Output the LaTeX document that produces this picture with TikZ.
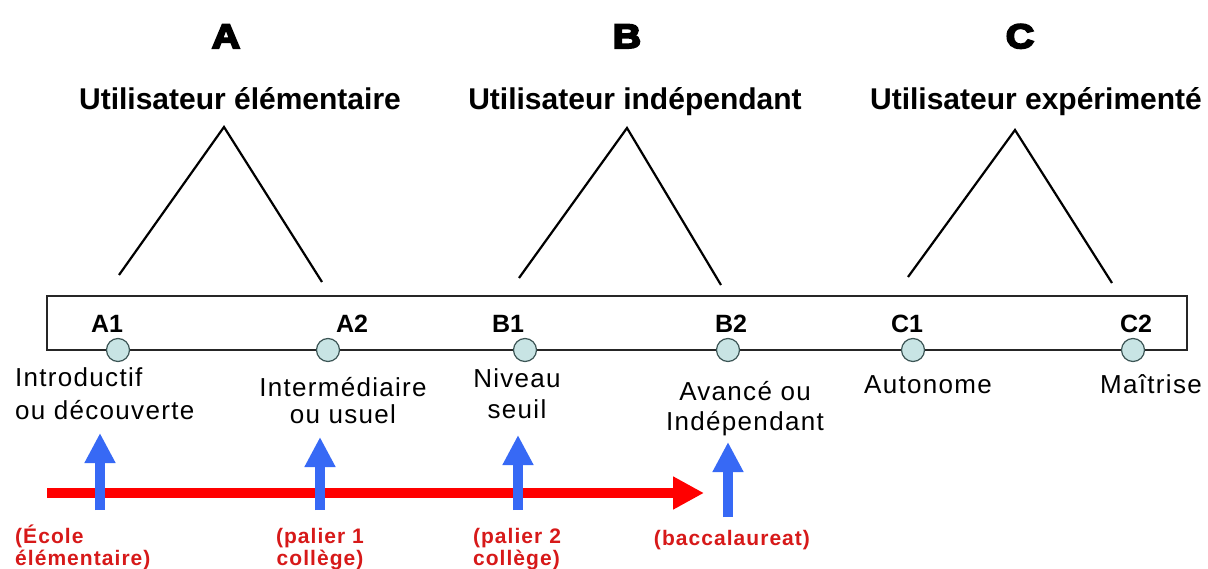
\documentclass[tikz,border=0pt]{standalone}
\usepackage{fontspec}
\setmainfont{Liberation Sans}
\newfontfamily\heavy{Liberation Sans}[UprightFont={* Bold}, FakeBold=6, FakeStretch=1.15]
\usetikzlibrary{arrows.meta}
\definecolor{redarrow}{RGB}{255,0,0}
\definecolor{redtext}{RGB}{215,25,25}
\definecolor{bluearrow}{RGB}{55,105,245}
\definecolor{dotfill}{RGB}{200,228,228}
\definecolor{dotdraw}{RGB}{60,85,85}
\tikzset{
  bigletter/.style={font=\fontsize{34}{34}\selectfont\heavy, anchor=base, inner sep=0pt},
  header/.style={font=\fontsize{30}{30}\selectfont\bfseries, anchor=base, inner sep=0pt},
  levelname/.style={font=\fontsize{25}{26}\selectfont\bfseries, anchor=base, inner sep=0pt},
  desc/.style={font=\fontsize{26}{30}\selectfont\addfontfeature{LetterSpace=5}, anchor=base, inner sep=0pt, align=center},
  redlabel/.style={font=\fontsize{21}{21.5}\selectfont\bfseries\addfontfeature{LetterSpace=5}, text=redtext, anchor=base, inner sep=0pt},
  dot/.style={circle, draw=dotdraw, fill=dotfill, line width=1.2pt, minimum size=23pt, inner sep=0pt},
  branch/.style={line width=2.2pt, black},
  scalebox/.style={draw=black!85, line width=1.5pt},
  progress/.style={draw=redarrow, line width=10pt, -{Triangle[length=31pt,width=31pt]}},
  stage/.style={draw=bluearrow, line width=9.5pt, -{Triangle[length=30pt,width=29pt]}},
}
\begin{document}
\begin{tikzpicture}[x=1pt,y=-1pt]
\useasboundingbox (0,0) rectangle (1208,569);
\fill[white] (0,0) rectangle (1208,569);

% big letters
\node[bigletter] (LA) at (226,48) {A};
\node[bigletter] (LB) at (627,48) {B};
\node[bigletter] (LC) at (1020,48) {C};

% headers
\node[header] (HA) at (240,110) {Utilisateur élémentaire};
\node[header] (HB) at (635,110) {Utilisateur indépendant};
\node[header] (HC) at (1036,110) {Utilisateur expérimenté};

% triangle coordinates
\coordinate (TA) at (224,127);
\coordinate (TAl) at (119,275);
\coordinate (TAr) at (322,282);
\coordinate (TB) at (627,128);
\coordinate (TBl) at (519,278);
\coordinate (TBr) at (721,285);
\coordinate (TC) at (1015,130);
\coordinate (TCl) at (908,277);
\coordinate (TCr) at (1112,283);
\draw[branch] (TAl) -- (TA) -- (TAr);
\draw[branch] (TBl) -- (TB) -- (TBr);
\draw[branch] (TCl) -- (TC) -- (TCr);

% scale box
\coordinate (R1) at (47,296);
\coordinate (R2) at (1187,350);
\draw[scalebox] (R1) rectangle (R2);

% level dots
\node[dot] (dA1) at (118,350) {};
\node[dot] (dA2) at (328,350) {};
\node[dot] (dB1) at (525,350) {};
\node[dot] (dB2) at (728,350) {};
\node[dot] (dC1) at (913,350) {};
\node[dot] (dC2) at (1133,350) {};

% level names
\node[levelname] (nA1) at (107,333) {A1};
\node[levelname] (nA2) at (352,333) {A2};
\node[levelname] (nB1) at (508,333) {B1};
\node[levelname] (nB2) at (731,333) {B2};
\node[levelname] (nC1) at (907,333) {C1};
\node[levelname] (nC2) at (1136,333) {C2};

% descriptions (anchor = baseline of last line)
\node[desc, anchor=base west, align=left, font=\fontsize{26}{33}\selectfont\addfontfeature{LetterSpace=5}] (xA1) at (15,419) {Introductif\\ou découverte};
\node[desc, font=\fontsize{26}{27}\selectfont\addfontfeature{LetterSpace=5}] (xA2) at (343,423) {Intermédiaire\\ou usuel};
\node[desc, font=\fontsize{26}{31}\selectfont\addfontfeature{LetterSpace=5}] (xB1) at (517,418) {Niveau\\seuil};
\node[desc] (xB2) at (745,430) {Avancé ou\\Indépendant};
\node[desc] (xC1) at (928,394) {Autonome};
\node[desc] (xC2) at (1151,394) {Maîtrise};

% red progress arrow
\coordinate (P0) at (47,493);
\coordinate (P1) at (704,493);
\draw[progress] (P0) -- (P1);

% blue stage arrows
\coordinate (sA1) at (100,510);
\coordinate (tA1) at (100,433);
\coordinate (sA2) at (320,510);
\coordinate (tA2) at (320,437);
\coordinate (sB1) at (518,510);
\coordinate (tB1) at (518,435);
\coordinate (sB2) at (728,517);
\coordinate (tB2) at (728,442);
\draw[stage] (sA1) -- (tA1);
\draw[stage] (sA2) -- (tA2);
\draw[stage] (sB1) -- (tB1);
\draw[stage] (sB2) -- (tB2);

% red labels
\node[redlabel, anchor=base west, align=left] (rA1) at (15,565) {(École\\élémentaire)};
\node[redlabel, align=center] (rA2) at (320,565) {(palier 1\\collège)};
\node[redlabel, align=left] (rB1) at (517,565) {(palier 2\\collège)};
\node[redlabel] (rB2) at (732,545) {(baccalaureat)};
\end{tikzpicture}
\end{document}
